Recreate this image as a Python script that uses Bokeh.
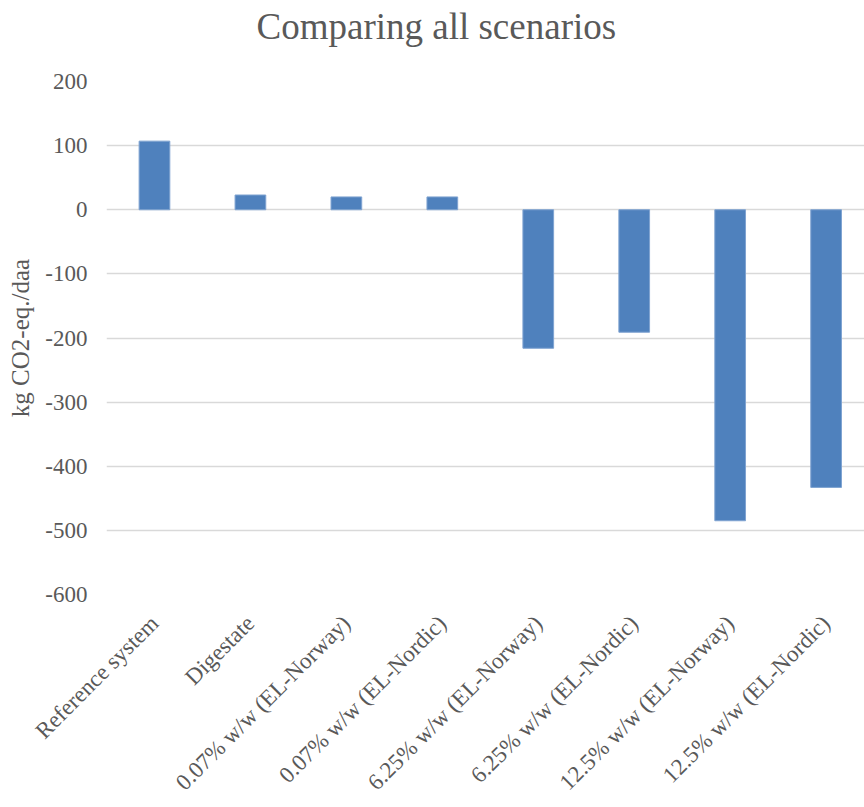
import math
from bokeh.plotting import figure
from bokeh.models import Range1d, FixedTicker, Title
from bokeh.embed import file_html
from bokeh.resources import INLINE

# Scenario names and their net emissions (kg CO2-eq. per daa)
scenarios = [
    "Reference system",
    "Digestate",
    "0.07% w/w (EL-Norway)",
    "0.07% w/w (EL-Nordic)",
    "6.25% w/w (EL-Norway)",
    "6.25% w/w (EL-Nordic)",
    "12.5% w/w (EL-Norway)",
    "12.5% w/w (EL-Nordic)",
]
emissions = [107, 23, 20, 20, -216, -191, -485, -433]
y_ticks = [200, 100, 0, -100, -200, -300, -400, -500, -600]

FONT = "Liberation Serif"
TEXT = "#595959"

xs = [i + 0.5 for i in range(len(scenarios))]

p = figure(
    width=864, height=807,
    output_backend="svg", toolbar_location=None,
    x_range=Range1d(0, 7.9), y_range=Range1d(-600, 200),
    min_border_left=106, min_border_right=0,
    min_border_top=0, min_border_bottom=213,
)
p.outline_line_color = None
p.background_fill_color = "white"
p.border_fill_color = "white"

p.vbar(x=xs, top=emissions, bottom=0, width=0.32,
       fill_color="#4F81BD", line_color="#7FA3D1", line_width=1)

# blank band between the title and the plot area
p.add_layout(Title(text=" ", text_font_size="1px", standoff=25), "above")
p.title = Title(text="Comparing all scenarios", align="left", vertical_align="top",
                text_font=FONT, text_font_size="37px", text_font_style="normal",
                text_color=TEXT, offset=150, standoff=10)

# y axis
p.yaxis.ticker = FixedTicker(ticks=y_ticks)
p.yaxis.major_label_overrides = {t: str(t) for t in y_ticks}
p.yaxis.axis_label = "kg CO2-eq./daa"
p.yaxis.axis_label_text_font = FONT
p.yaxis.axis_label_text_font_size = "25px"
p.yaxis.axis_label_text_font_style = "normal"
p.yaxis.axis_label_text_color = TEXT
p.yaxis.axis_label_standoff = 8
p.yaxis.major_label_text_font = FONT
p.yaxis.major_label_text_font_size = "23px"
p.yaxis.major_label_text_color = TEXT
p.yaxis.major_label_standoff = 19
p.yaxis.axis_line_color = None
p.yaxis.major_tick_line_color = None
p.yaxis.minor_tick_line_color = None
p.yaxis.major_tick_out = 0
p.yaxis.major_tick_in = 0

# x axis with scenario names
p.xaxis.ticker = FixedTicker(ticks=xs)
p.xaxis.major_label_overrides = {x: s for x, s in zip(xs, scenarios)}
p.xaxis.major_label_orientation = math.pi / 4
p.xaxis.major_label_text_font = FONT
p.xaxis.major_label_text_font_size = "23px"
p.xaxis.major_label_text_color = TEXT
p.xaxis.major_label_standoff = 25
p.xaxis.axis_line_color = None
p.xaxis.major_tick_line_color = None
p.xaxis.minor_tick_line_color = None
p.xaxis.major_tick_out = 0
p.xaxis.major_tick_in = 0

p.xgrid.grid_line_color = None
p.ygrid.ticker = FixedTicker(ticks=y_ticks)
p.ygrid.grid_line_color = "#D9D9D9"
p.ygrid.grid_line_width = 1.5

open("out.html", "w").write(file_html(p, INLINE))
